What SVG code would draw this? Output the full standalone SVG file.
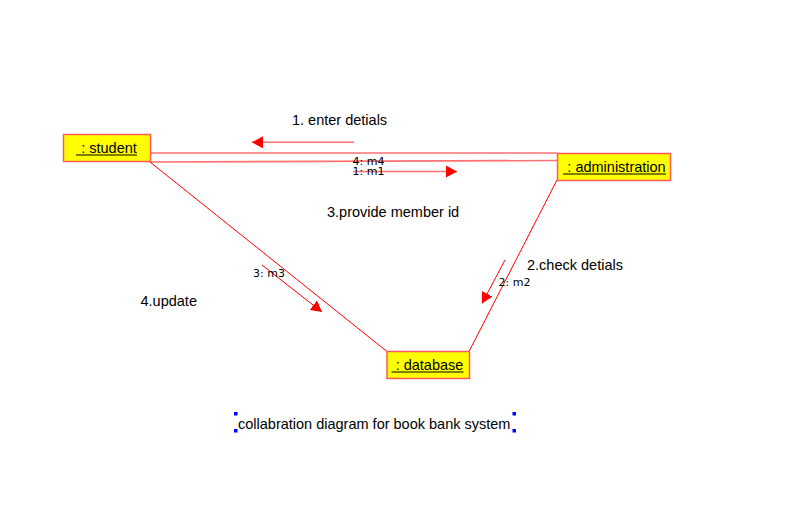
<svg xmlns="http://www.w3.org/2000/svg" width="792" height="524" viewBox="0 0 792 524">
<style>
.box{fill:#ffff00;stroke:#ff5a5a;stroke-width:1.5}
.lbl{font-family:"Liberation Sans",Arial,sans-serif;font-size:14.5px;fill:#000}
.msg{font-family:"DejaVu Sans",Tahoma,sans-serif;font-size:11px;fill:#000}
.ul{stroke:#000;stroke-width:1}
.link{stroke:#ff0000;stroke-width:1;fill:none}
.hl{stroke:#ff7070;stroke-width:1.6;fill:none}
.arr{stroke:#ff0000;stroke-width:1;fill:none;marker-end:url(#ah)}
.harr{stroke:#ff7070;stroke-width:1.6;fill:none;marker-end:url(#ah)}
.hdl{fill:#0000ff}
</style>
<defs>
<marker id="ah" viewBox="0 0 11 12" refX="11" refY="6" markerWidth="11" markerHeight="12" markerUnits="userSpaceOnUse" orient="auto">
<path d="M0,0 L11,6 L0,12 Z" fill="#ff0000"/>
</marker>
</defs>
<rect width="792" height="524" fill="#fff"/>
<g id="connectors">
<line class="hl" x1="150" y1="153" x2="557" y2="153"/>
<line class="hl" x1="150" y1="162" x2="557" y2="160.5"/>
<line class="link" x1="150" y1="162" x2="387" y2="351.5"/>
<line class="link" x1="557" y1="180" x2="469" y2="351.5"/>
<line class="harr" x1="354" y1="142.3" x2="252" y2="142.3"/>
<line class="harr" x1="353" y1="171.5" x2="457" y2="171.5"/>
<line class="arr" x1="262" y1="265" x2="322" y2="312"/>
<line class="arr" x1="505" y1="260" x2="482" y2="303.5"/>
<text class="msg" x="352.5" y="164.5">4: m4</text>
<text class="msg" x="352.5" y="175">1: m1</text>
<text class="msg" x="253" y="277">3: m3</text>
<text class="msg" x="498.5" y="286">2: m2</text>
</g>
<g id="student">
<rect class="box" x="63.5" y="134.5" width="87" height="27"/>
<text class="lbl" x="107" y="153.3" text-anchor="middle" xml:space="preserve"> : student</text>
<line class="ul" x1="76" y1="155" x2="137" y2="155"/>
</g>
<g id="administration">
<rect class="box" x="557.5" y="153.5" width="113" height="27"/>
<text class="lbl" x="614.5" y="172" text-anchor="middle" xml:space="preserve"> : administration</text>
<line class="ul" x1="563" y1="174" x2="666" y2="174"/>
</g>
<g id="database">
<rect class="box" x="387" y="351.5" width="82.5" height="27"/>
<text class="lbl" x="427.5" y="369.5" text-anchor="middle" xml:space="preserve"> : database</text>
<line class="ul" x1="391.5" y1="372" x2="463.5" y2="372"/>
</g>
<g id="labels">
<text class="lbl" x="292" y="125">1. enter detials</text>
<text class="lbl" x="327" y="217">3.provide member id</text>
<text class="lbl" x="527" y="270">2.check detials</text>
<text class="lbl" x="140.5" y="306">4.update</text>
</g>
<g id="caption">
<text class="lbl" x="238" y="428.5">collabration diagram for book bank system</text>
<rect class="hdl" x="234" y="412" width="3.5" height="3.5"/>
<rect class="hdl" x="512.5" y="412" width="3.5" height="3.5"/>
<rect class="hdl" x="234" y="429" width="3.5" height="3.5"/>
<rect class="hdl" x="512.5" y="429" width="3.5" height="3.5"/>
</g>
</svg>
